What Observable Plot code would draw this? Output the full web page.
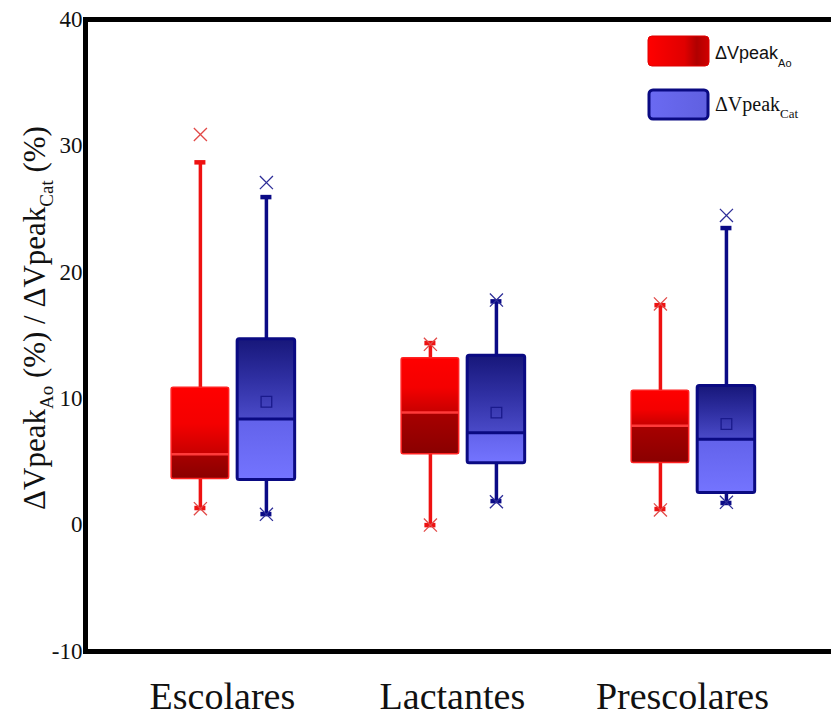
<!DOCTYPE html>
<html><head><meta charset="utf-8">
<script src="https://cdn.jsdelivr.net/npm/d3@7"></script>
<script src="https://cdn.jsdelivr.net/npm/@observablehq/plot@0.6"></script>
<style>body{margin:0;background:#fff} #chart{width:831px;height:719px}</style>
</head><body><div id="chart"></div>
<script>
const categories = ["Escolares", "Lactantes", "Prescolares"];
const seriesKeys = ["Ao", "Cat"];
const yTicks = [-10, 0, 10, 20, 30, 40];

// ΔVpeak Ao (red)
const aoWhiskerLow  = [1.35, 0.0, 1.27];
const aoQ1          = [3.65, 5.6, 4.92];
const aoMedian      = [5.6, 8.9, 7.86];
const aoQ3          = [10.87, 13.2, 10.63];
const aoWhiskerHigh = [28.7, 14.4, 17.4];
const aoOutlierHigh = [30.9, 14.3, 17.5];
const aoOutlierLow  = [1.3, 0.0, 1.2];

// ΔVpeak Cat (blue)
const catWhiskerLow  = [0.87, 1.9, 1.75];
const catQ1          = [3.57, 4.9, 2.54];
const catMedian      = [8.4, 7.3, 6.8];
const catMean        = [9.76, 8.9, 8.0];
const catQ3          = [14.7, 13.4, 11.0];
const catWhiskerHigh = [25.95, 17.7, 23.5];
const catOutlierHigh = [27.1, 17.8, 24.5];
const catOutlierLow  = [0.85, 1.85, 1.8];

const rows = categories.flatMap((c, i) => [
  {cat: c, i, s: "Ao", low: aoWhiskerLow[i], q1: aoQ1[i], med: aoMedian[i], q3: aoQ3[i],
   high: aoWhiskerHigh[i], outHigh: aoOutlierHigh[i], outLow: aoOutlierLow[i]},
  {cat: c, i, s: "Cat", low: catWhiskerLow[i], q1: catQ1[i], med: catMedian[i], q3: catQ3[i],
   high: catWhiskerHigh[i], outHigh: catOutlierHigh[i], outLow: catOutlierLow[i], mean: catMean[i]}
]);

const offset = {Ao: -0.1435, Cat: 0.1435};
const halfBox = 0.125, halfCap = 0.024;
const cx = d => d.i + offset[d.s];
const bx1 = d => cx(d) - halfBox, bx2 = d => cx(d) + halfBox;
const cx1 = d => cx(d) - halfCap, cx2 = d => cx(d) + halfCap;

const styles = {
  Ao:  {whisker: "#ee1111", boxStroke: "#ff2222", boxWidth: 1.5, med: "#ff3a3a", medWidth: 2.5,
        upFill: "url(#redUp)", lowFill: "url(#redLow)", outlier: "#e24a48"},
  Cat: {whisker: "#0b0b86", boxStroke: "#0a0a82", boxWidth: 3, med: "#0a0a82", medWidth: 3,
        upFill: "url(#blueUp)", lowFill: "url(#blueLow)", outlier: "#2e2e98"}
};

const marks = [Plot.frame({stroke: "black", strokeWidth: 5})];
for (const s of seriesKeys) {
  const data = rows.filter(d => d.s === s);
  const st = styles[s];
  marks.push(
    Plot.ruleX(data, {x: cx, y1: "q3", y2: "high", stroke: st.whisker, strokeWidth: 3.5}),
    Plot.ruleX(data, {x: cx, y1: "low", y2: "q1", stroke: st.whisker, strokeWidth: 3.5}),
    Plot.ruleY(data, {y: "high", x1: cx1, x2: cx2, stroke: st.whisker, strokeWidth: 4.5}),
    Plot.ruleY(data, {y: "low", x1: cx1, x2: cx2, stroke: st.whisker, strokeWidth: 4.5}),
    Plot.rect(data, {x1: bx1, x2: bx2, y1: "med", y2: "q3", fill: st.upFill}),
    Plot.rect(data, {x1: bx1, x2: bx2, y1: "q1", y2: "med", fill: st.lowFill}),
    Plot.rect(data, {x1: bx1, x2: bx2, y1: "q1", y2: "q3", fill: "none", stroke: st.boxStroke, strokeWidth: st.boxWidth, rx: 2}),
    Plot.ruleY(data, {y: "med", x1: bx1, x2: bx2, stroke: st.med, strokeWidth: st.medWidth}),
    Plot.dot(data, {x: cx, y: "outHigh", symbol: "times", r: 6, stroke: st.outlier, strokeWidth: 1.3}),
    Plot.dot(data, {x: cx, y: "outLow", symbol: "times", r: 6, stroke: st.outlier, strokeWidth: 1.3})
  );
}
marks.push(
  Plot.dot(rows.filter(d => d.s === "Cat"), {x: cx, y: "mean", symbol: "square", r: 6, stroke: "#1a1a8c", strokeWidth: 1.3, fill: "none"}),
  Plot.text(categories, {x: (d, i) => i, text: d => d, frameAnchor: "bottom", dy: 57, dx: -11, fontSize: 38, fill: "#111"})
);

const plot = Plot.plot({
  width: 831, height: 719,
  marginTop: 19, marginBottom: 68, marginLeft: 85, marginRight: -5,
  x: {domain: [-0.643, 2.622], axis: null},
  y: {domain: [-10, 40], ticks: yTicks, tickSize: 0, tickPadding: 3, label: null, tickFormat: d => String(d)},
  style: {fontFamily: "'Liberation Serif', 'Times New Roman', serif", fontSize: "23px", color: "#111", background: "white", overflow: "hidden"},
  marks
});
document.getElementById("chart").appendChild(plot);

const svg = d3.select(plot);
const defs = svg.insert("defs", ":first-child");
function grad(id, stops, horizontal) {
  const g = defs.append("linearGradient").attr("id", id)
    .attr("x1", 0).attr("y1", 0).attr("x2", horizontal ? 1 : 0).attr("y2", horizontal ? 0 : 1);
  stops.forEach(([o, c]) => g.append("stop").attr("offset", o).attr("stop-color", c));
}
grad("redUp", [[0, "#ff0000"], [0.55, "#f40000"], [1, "#c80000"]]);
grad("redLow", [[0, "#a80000"], [1, "#8a0000"]]);
grad("blueUp", [[0, "#17177a"], [0.5, "#2f2fa2"], [1, "#4a4ac8"]]);
grad("blueLow", [[0, "#6262ea"], [1, "#7474ff"]]);
grad("legRed", [[0, "#ff0000"], [0.6, "#e00000"], [0.8, "#b00000"], [1, "#d00000"]], true);
grad("legBlue", [[0, "#6a6af2"], [1, "#6060e0"]], true);

const serif = "'Liberation Serif', 'Times New Roman', serif";
const sans = "'Liberation Sans', Arial, sans-serif";

// y-axis title with subscripts
const yl = svg.append("text")
  .attr("transform", "translate(45,318) rotate(-90)")
  .attr("text-anchor", "middle")
  .attr("font-family", serif).attr("font-size", 31).attr("fill", "#111");
yl.append("tspan").text("ΔVpeak");
yl.append("tspan").attr("font-size", 19).attr("dy", 8).text("Ao");
yl.append("tspan").attr("dy", -8).text(" (%) / ΔVpeak");
yl.append("tspan").attr("font-size", 19).attr("dy", 8).text("Cat");
yl.append("tspan").attr("dy", -8).text(" (%)");

// legend
const leg = svg.append("g").attr("text-anchor", "start");
leg.append("rect").attr("x", 648).attr("y", 36).attr("width", 61).attr("height", 30).attr("rx", 4)
  .attr("fill", "url(#legRed)").attr("stroke", "#e00000").attr("stroke-width", 1);
const t1 = leg.append("text").attr("x", 715).attr("y", 59).attr("text-anchor", "start").attr("font-family", sans).attr("font-size", 18).attr("fill", "#111");
t1.append("tspan").text("ΔVpeak");
t1.append("tspan").attr("font-size", 11).attr("dy", 8).text("Ao");
leg.append("rect").attr("x", 649).attr("y", 90).attr("width", 59).attr("height", 29).attr("rx", 4)
  .attr("fill", "url(#legBlue)").attr("stroke", "#0a0a82").attr("stroke-width", 3);
const t2 = leg.append("text").attr("x", 715).attr("y", 111).attr("text-anchor", "start").attr("font-family", serif).attr("font-size", 20).attr("fill", "#111");
t2.append("tspan").text("ΔVpeak");
t2.append("tspan").attr("font-size", 13).attr("dy", 7).text("Cat");
</script>
</body></html>
